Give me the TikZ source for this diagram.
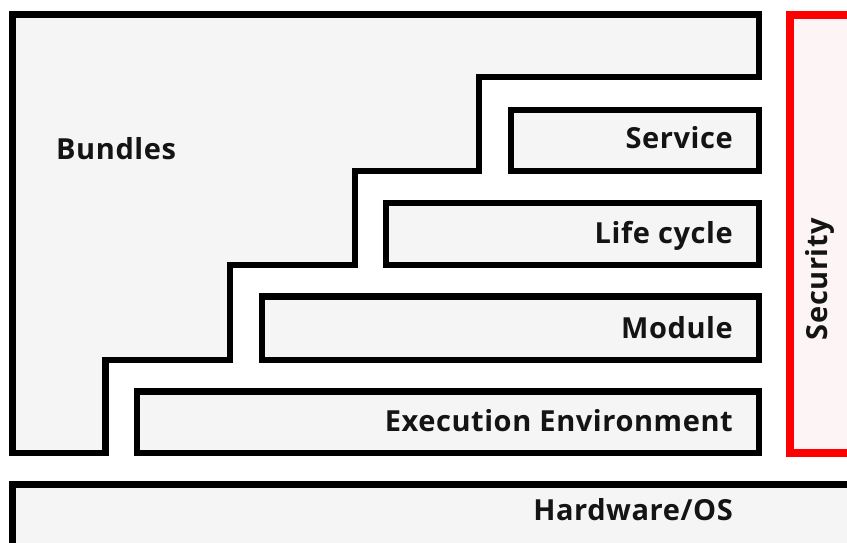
\documentclass[tikz,border=0pt]{standalone}
\usepackage{fontspec}
\setmainfont{Open Sans}[LetterSpace=2]
\definecolor{boxfill}{HTML}{F5F5F5}
\definecolor{secfill}{HTML}{FDF5F5}
\definecolor{secred}{HTML}{FF0000}
\definecolor{ink}{HTML}{141414}
\tikzset{
  layer/.style={draw=black, line width=6.5pt, fill=boxfill, line join=miter},
  seclayer/.style={draw=secred, line width=8.5pt, fill=secfill, line join=miter},
  lbl/.style={font=\bfseries\fontsize{29}{32}\selectfont, text=ink, inner sep=0pt},
  rlbl/.style={lbl, anchor=base east},
}
\begin{document}
\begin{tikzpicture}[x=1pt,y=-1pt]
  \useasboundingbox (0,0) rectangle (847,543);
  \fill[white] (0,0) rectangle (847,543);

  % Bundles: stepped outline wrapping the framework layers
  \draw[layer] (12.5,14.5) -- (759,14.5) -- (759,77) -- (479,77) -- (479,171)
    -- (355,171) -- (355,265) -- (230,265) -- (230,360) -- (105.5,360)
    -- (105.5,453) -- (12.5,453) -- cycle;

  % Framework layers
  \draw[layer] (511,110) rectangle (759,171);
  \draw[layer] (386,203) rectangle (759,265);
  \draw[layer] (262,296.5) rectangle (759,360);
  \draw[layer] (137,391.5) rectangle (759,453);

  % Hardware / OS base
  \draw[layer] (12.5,484.5) rectangle (880,580);

  % Security column
  \draw[seclayer] (790,15) rectangle (880,453);

  % Labels
  \node[lbl, anchor=base west] (bundles) at (56,159) {Bundles};
  \node[rlbl] (service) at (733,148) {Service};
  \node[rlbl] (lifecycle) at (733,243) {Life cycle};
  \node[rlbl] (module) at (733,338) {Module};
  \node[rlbl] (exec) at (733,431) {Execution Environment};
  \node[rlbl] (hwos) at (733,520) {Hardware/OS};
  \node[lbl, rotate=90, anchor=base] (security) at (827,279) {Security};
\end{tikzpicture}
\end{document}
